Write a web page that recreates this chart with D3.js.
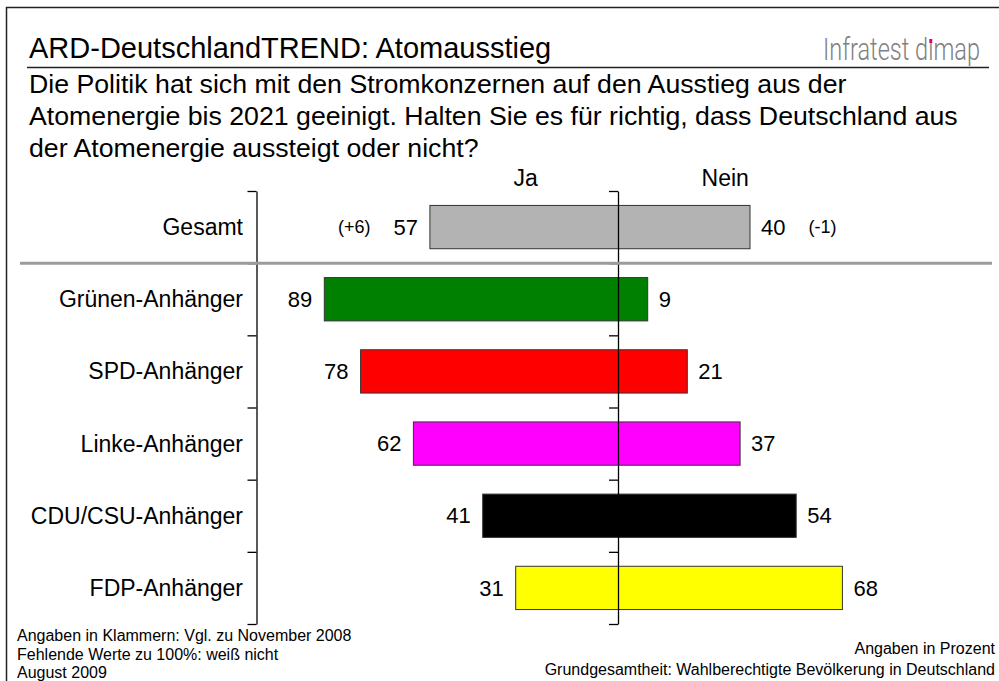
<!DOCTYPE html>
<html>
<head>
<meta charset="utf-8">
<script src="https://cdn.jsdelivr.net/npm/d3@7"></script>
<style>
  body { margin: 0; background: #fff; }
  svg { display: block; font-family: "Liberation Sans", Arial, sans-serif; }
</style>
</head>
<body>
<svg id="chart" width="999" height="681"></svg>
<script>
// Daten
const categories = ["Gesamt", "Grünen-Anhänger", "SPD-Anhänger", "Linke-Anhänger", "CDU/CSU-Anhänger", "FDP-Anhänger"];
const jaValues = [57, 89, 78, 62, 41, 31];
const neinValues = [40, 9, 21, 37, 54, 68];
const jaChanges = ["(+6)", "", "", "", "", ""];
const neinChanges = ["(-1)", "", "", "", "", ""];
const barColors = ["#b3b3b3", "#008000", "#ff0000", "#ff00ff", "#000000", "#ffff00"];

const title = "ARD-DeutschlandTREND: Atomausstieg";
const questionLines = [
  "Die Politik hat sich mit den Stromkonzernen auf den Ausstieg aus der",
  "Atomenergie bis 2021 geeinigt. Halten Sie es für richtig, dass Deutschland aus",
  "der Atomenergie aussteigt oder nicht?"
];
const footLeft = ["Angaben in Klammern: Vgl. zu November 2008", "Fehlende Werte zu 100%: weiß nicht", "August 2009"];
const footRight = ["Angaben in Prozent", "Grundgesamtheit: Wahlberechtigte Bevölkerung in Deutschland"];

const svg = d3.select("#chart");

// Rahmen (geht über den Bildrand hinaus)
svg.append("rect")
  .attr("x", 6.5).attr("y", 7.5)
  .attr("width", 1100).attr("height", 1000)
  .attr("fill", "none")
  .attr("stroke", "#222")
  .attr("stroke-width", 1.5);

// Titel
svg.append("text")
  .attr("x", 29).attr("y", 58)
  .style("font-size", "29px")
  .attr("fill", "#000")
  .text(title);

// Logo-Schriftzug: schmal gestaucht, i ohne Punkt, Punkt in Magenta separat
const logoG = svg.append("g");
const logo = logoG.append("text")
  .style("font-family", "Roboto, 'Liberation Sans Narrow', sans-serif")
  .style("font-weight", 300)
  .style("font-size", "31px")
  .attr("fill", "#808080")
  .text("Infratest dımap");
const logoW = logo.node().getComputedTextLength();
const sx = 157 / logoW;
logoG.attr("transform", `translate(823,60) scale(${sx},1)`);
try {
  const ext = logo.node().getExtentOfChar(11);
  logoG.append("rect")
    .attr("x", ext.x + ext.width / 2 - 1.5 / sx)
    .attr("y", -21)
    .attr("width", 3 / sx).attr("height", 4)
    .attr("fill", "#e0007a");
} catch (e) {}

svg.append("line")
  .attr("x1", 27).attr("x2", 989)
  .attr("y1", 67.5).attr("y2", 67.5)
  .attr("stroke", "#222")
  .attr("stroke-width", 1.5);

// Fragetext
svg.append("g").selectAll("text")
  .data(questionLines)
  .enter()
  .append("text")
  .attr("x", 29)
  .attr("y", (d, i) => 93 + i * 32)
  .style("font-size", "26.7px")
  .text(d => d);

// Skalen
const x = d3.scaleLinear().domain([-100, 100]).range([288, 948]);
const y = d3.scaleBand()
  .domain(categories)
  .range([191, 624])
  .paddingInner(0.4)
  .paddingOuter(0.2);
const yIdx = d3.scaleLinear().domain([0, categories.length]).range([191, 624]);

// Achsen (Linien mit Ticks an den Kategoriegrenzen)
const axisLeft = d3.axisLeft(yIdx)
  .tickValues(d3.range(categories.length + 1))
  .tickSize(9)
  .tickSizeOuter(0)
  .tickFormat("");

svg.append("g")
  .attr("transform", "translate(256.5,0)")
  .call(axisLeft)
  .selectAll("path, line")
  .attr("stroke", "#000")
  .attr("stroke-width", 1.3);

// Balken
svg.append("g").selectAll("rect")
  .data(categories)
  .enter()
  .append("rect")
  .attr("x", (d, i) => x(-jaValues[i]))
  .attr("y", d => y(d))
  .attr("width", (d, i) => x(neinValues[i]) - x(-jaValues[i]))
  .attr("height", y.bandwidth())
  .attr("fill", (d, i) => barColors[i])
  .attr("stroke", "#333")
  .attr("stroke-width", 1);

// Mittellinie
svg.append("g")
  .attr("transform", `translate(${x(0)},0)`)
  .call(axisLeft)
  .selectAll("path, line")
  .attr("stroke", "#000")
  .attr("stroke-width", 1.3);

// Trennlinie unter "Gesamt"
svg.append("line")
  .attr("x1", 20).attr("x2", 992)
  .attr("y1", yIdx(1)).attr("y2", yIdx(1))
  .attr("stroke", "#9b9b9b")
  .attr("stroke-width", 3);

// Kategorien
svg.append("g").selectAll("text")
  .data(categories)
  .enter()
  .append("text")
  .attr("x", 243)
  .attr("y", d => y(d) + y.bandwidth() / 2)
  .attr("dy", "0.35em")
  .attr("text-anchor", "end")
  .style("font-size", "23px")
  .text(d => d);

// Werte Ja
const jaLabels = svg.append("g").selectAll("text")
  .data(categories)
  .enter()
  .append("text")
  .attr("x", (d, i) => x(-jaValues[i]) - 12)
  .attr("y", d => y(d) + y.bandwidth() / 2)
  .attr("dy", "0.35em")
  .attr("text-anchor", "end")
  .style("font-size", "22px")
  .text((d, i) => jaValues[i]);

// Werte Nein
const neinLabels = svg.append("g").selectAll("text")
  .data(categories)
  .enter()
  .append("text")
  .attr("x", (d, i) => x(neinValues[i]) + 11)
  .attr("y", d => y(d) + y.bandwidth() / 2)
  .attr("dy", "0.35em")
  .style("font-size", "22px")
  .text((d, i) => neinValues[i]);

// Veränderungen (in Klammern)
jaLabels.each(function(d, i) {
  if (!jaChanges[i]) return;
  const w = this.getComputedTextLength();
  svg.append("text")
    .attr("x", x(-jaValues[i]) - 12 - w - 23)
    .attr("y", y(d) + y.bandwidth() / 2)
    .attr("dy", "0.35em")
    .attr("text-anchor", "end")
    .style("font-size", "18px")
    .text(jaChanges[i]);
});
neinLabels.each(function(d, i) {
  if (!neinChanges[i]) return;
  const w = this.getComputedTextLength();
  svg.append("text")
    .attr("x", x(neinValues[i]) + 11 + w + 23)
    .attr("y", y(d) + y.bandwidth() / 2)
    .attr("dy", "0.35em")
    .style("font-size", "18px")
    .text(neinChanges[i]);
});

// Ja / Nein
svg.append("text")
  .attr("x", x(-28)).attr("y", 186)
  .attr("text-anchor", "middle")
  .style("font-size", "23px")
  .text("Ja");
svg.append("text")
  .attr("x", x(32.5)).attr("y", 186)
  .attr("text-anchor", "middle")
  .style("font-size", "23px")
  .text("Nein");

// Fußnoten
svg.append("g").selectAll("text")
  .data(footLeft)
  .enter()
  .append("text")
  .attr("x", 17)
  .attr("y", (d, i) => 641 + i * 18.5)
  .style("font-size", "16px")
  .text(d => d);

svg.append("g").selectAll("text")
  .data(footRight)
  .enter()
  .append("text")
  .attr("x", 995)
  .attr("y", (d, i) => 654 + i * 21)
  .attr("text-anchor", "end")
  .style("font-size", "16px")
  .text(d => d);
</script>
</body>
</html>
